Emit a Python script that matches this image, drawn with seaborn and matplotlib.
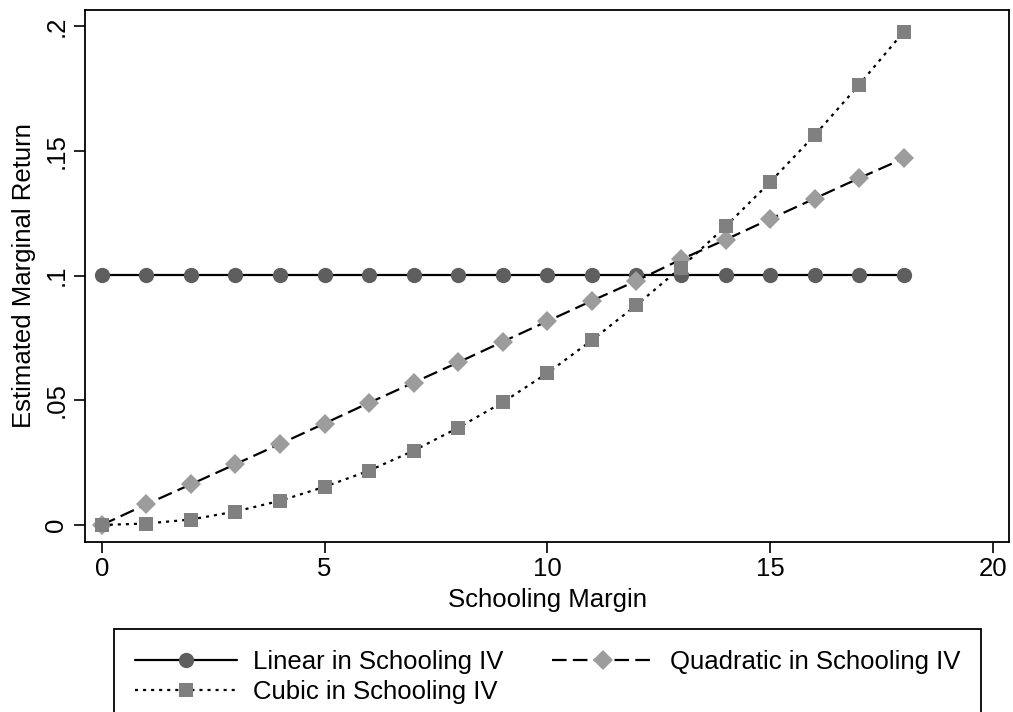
import matplotlib
matplotlib.use("Agg")
import matplotlib.pyplot as plt
import seaborn as sns
import pandas as pd

# data
schooling = list(range(19))
linear = [0.1003] * 19
quadratic = [0.0, 0.0083, 0.0163, 0.0244, 0.0325, 0.0407, 0.0490, 0.0571, 0.0652,
             0.0735, 0.0817, 0.0899, 0.0979, 0.1065, 0.1144, 0.1227, 0.1309,
             0.1391, 0.1470]
cubic = [0.0, 0.0006, 0.0022, 0.0054, 0.0097, 0.0153, 0.0218, 0.0298, 0.0390,
         0.0492, 0.0609, 0.0741, 0.0882, 0.1032, 0.1197, 0.1375, 0.1563,
         0.1766, 0.1978]
series_names = ["Linear in Schooling IV", "Quadratic in Schooling IV",
                "Cubic in Schooling IV"]
x_ticks = [0, 5, 10, 15, 20]
y_ticks = [0, 0.05, 0.1, 0.15, 0.2]
y_ticklabels = ["0", ".05", ".1", ".15", ".2"]

df = pd.DataFrame({"margin": schooling, "linear": linear,
                   "quadratic": quadratic, "cubic": cubic})

sns.set_style("ticks")
plt.rcParams["font.family"] = ["Liberation Sans", "DejaVu Sans"]
plt.rcParams["lines.scale_dashes"] = False
plt.rcParams["text.color"] = "black"
plt.rcParams["axes.labelcolor"] = "black"

fig = plt.figure(figsize=(10.13, 7.12), dpi=100)
ax = fig.add_axes([85 / 1013, 0.2388, (1009 - 85) / 1013, 0.986 - 0.2388])

fs = 18.5
common = dict(ax=ax, color="black", linewidth=1.6, markeredgewidth=0)

# plot
sns.lineplot(data=df, x="margin", y="linear", marker="o", markersize=11,
             markerfacecolor="#5e5e5e", linestyle="-", label=series_names[0],
             **common)
sns.lineplot(data=df, x="margin", y="quadratic", marker="D", markersize=10,
             markerfacecolor="#9c9c9c", linestyle=(0, (10.5, 4.5)),
             label=series_names[1], **common)
sns.lineplot(data=df, x="margin", y="cubic", marker="s", markersize=9.5,
             markerfacecolor="#808080", linestyle=(0, (2.2, 3.6)),
             label=series_names[2], **common)

# axes
ax.set_xlim(-0.375, 20.36)
ax.set_ylim(-0.0068, 0.2065)
ax.set_xticks(x_ticks)
ax.set_xticklabels([str(t) for t in x_ticks])
ax.set_yticks(y_ticks)
ax.set_yticklabels(y_ticklabels, rotation=90, va="center")
ax.tick_params(axis="both", labelsize=fs, length=8, width=1.2, color="black",
               labelcolor="black")
ax.tick_params(axis="x", pad=3)
ax.tick_params(axis="y", pad=4)
ax.set_xlabel("Schooling Margin", fontsize=fs, labelpad=5)
ax.set_ylabel("Estimated Marginal Return", fontsize=fs, labelpad=6)
for sp in ax.spines.values():
    sp.set_color("black")
    sp.set_linewidth(1.3)

# legend
handles, labels = ax.get_legend_handles_labels()
order = [0, 2, 1]
ax.get_legend().remove()
leg = fig.legend([handles[i] for i in order], [labels[i] for i in order],
                 loc="upper left", ncol=2, mode="expand",
                 bbox_to_anchor=(114 / 1013, (712 - 629) / 712 - 0.2,
                                 (981 - 114) / 1013, 0.2),
                 fontsize=fs, frameon=True, fancybox=False, numpoints=1,
                 handlelength=4.0, handletextpad=0.6, borderpad=0.8,
                 labelspacing=0.25, borderaxespad=0)
leg.get_frame().set_edgecolor("black")
leg.get_frame().set_linewidth(1.3)
leg.get_frame().set_alpha(1)
for t in leg.get_texts():
    t.set_color("black")

fig.savefig("out.png", dpi=100)
